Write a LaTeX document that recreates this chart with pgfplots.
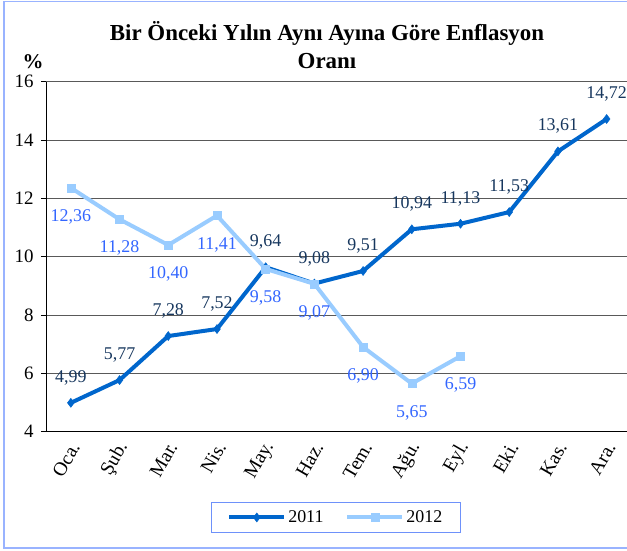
\documentclass[border=0pt]{standalone}
\usepackage{fontspec}
\setmainfont{Liberation Serif}
\usepackage{pgfplots}
\pgfplotsset{compat=1.18}
\definecolor{c2011}{RGB}{0,102,204}
\definecolor{c2012}{RGB}{153,204,255}
\definecolor{l2011}{RGB}{23,55,94}
\definecolor{l2012}{RGB}{51,102,255}
\definecolor{frameblue}{RGB}{153,179,255}
\definecolor{legblue}{RGB}{110,145,250}
\begin{document}
\begin{tikzpicture}
\path[use as bounding box] (0bp,0bp) rectangle (627bp,551bp);
\draw[frameblue, line width=1.5bp] (4bp,3bp) rectangle (645bp,549.5bp);
\node[font=\fontsize{23}{28}\selectfont\bfseries, align=center] at (327bp,505.5bp) {Bir Önceki Yılın Aynı Ayına Göre Enflasyon\\Oranı};
\node[font=\fontsize{21}{24}\selectfont\bfseries] at (33bp,489bp) {\%};
\begin{axis}[
  at={(46.5bp,119.3bp)}, anchor=south west,
  scale only axis, width=584.5bp, height=350bp,
  xmin=-0.5, xmax=11.5, ymin=4, ymax=16,
  ytick={4,6,...,16},
  xtick={0,1,...,11},
  xticklabels={Oca.,Şub.,Mar.,Nis.,May.,Haz.,Tem.,Ağu.,Eyl.,Eki.,Kas.,Ara.},
  axis x line*=bottom, axis y line*=left,
  axis line style={black, line width=0.9bp},
  ymajorgrids, grid style={black!65, line width=0.8bp},
  tick align=outside, major tick length=5.5bp,
  xtick style={draw=none}, ytick style={black, line width=0.8bp},
  /pgf/number format/assume math mode=true,
  yticklabel style={font=\fontsize{19}{22}\selectfont, xshift=-4bp},
  xticklabel style={font=\fontsize{19.5}{22}\selectfont, rotate=60, anchor=east, xshift=0bp, yshift=-7bp},
  clip=false,
  point meta=explicit symbolic,
  legend style={at={(0.495,-0.245)}, anchor=center, draw=legblue, line width=0.8bp,
     font=\fontsize{18}{21}\selectfont, inner xsep=16bp, inner ysep=6bp,
     /tikz/every even column/.append style={column sep=20bp}},
  legend columns=2,
  legend image code/.code={\draw[mark repeat=2,mark phase=2,#1] plot coordinates {(0bp,0bp) (27.5bp,0bp) (55bp,0bp)};},
]
\addplot[c2011, line width=4bp, mark=diamond*, mark size=4.5bp, mark options={solid, fill=c2011, line width=0.5bp},
  nodes near coords, nodes near coords align={anchor=center},
  every node near coord/.append style={font=\fontsize{18}{21}\selectfont, text=l2011, yshift=25bp}]
  coordinates {(0,4.99) [4,99] (1,5.77) [5,77] (2,7.28) [7,28] (3,7.52) [7,52] (4,9.64) [9,64] (5,9.08) [9,08]
   (6,9.51) [9,51] (7,10.94) [10,94] (8,11.13) [11,13] (9,11.53) [11,53] (10,13.61) [13,61] (11,14.72) [14,72]};
\addlegendentry{2011}
\addplot[c2012, line width=4bp, mark=square*, mark size=4bp, mark options={solid, fill=c2012, line width=0.5bp},
  nodes near coords, nodes near coords align={anchor=center},
  every node near coord/.append style={font=\fontsize{18}{21}\selectfont, text=l2012, yshift=-29bp}]
  coordinates {(0,12.36) [12,36] (1,11.28) [11,28] (2,10.40) [10,40] (3,11.41) [11,41] (4,9.58) [9,58] (5,9.07) [9,07]
   (6,6.90) [6,90] (7,5.65) [5,65] (8,6.59) [6,59]};
\addlegendentry{2012}
\end{axis}
\end{tikzpicture}
\end{document}
